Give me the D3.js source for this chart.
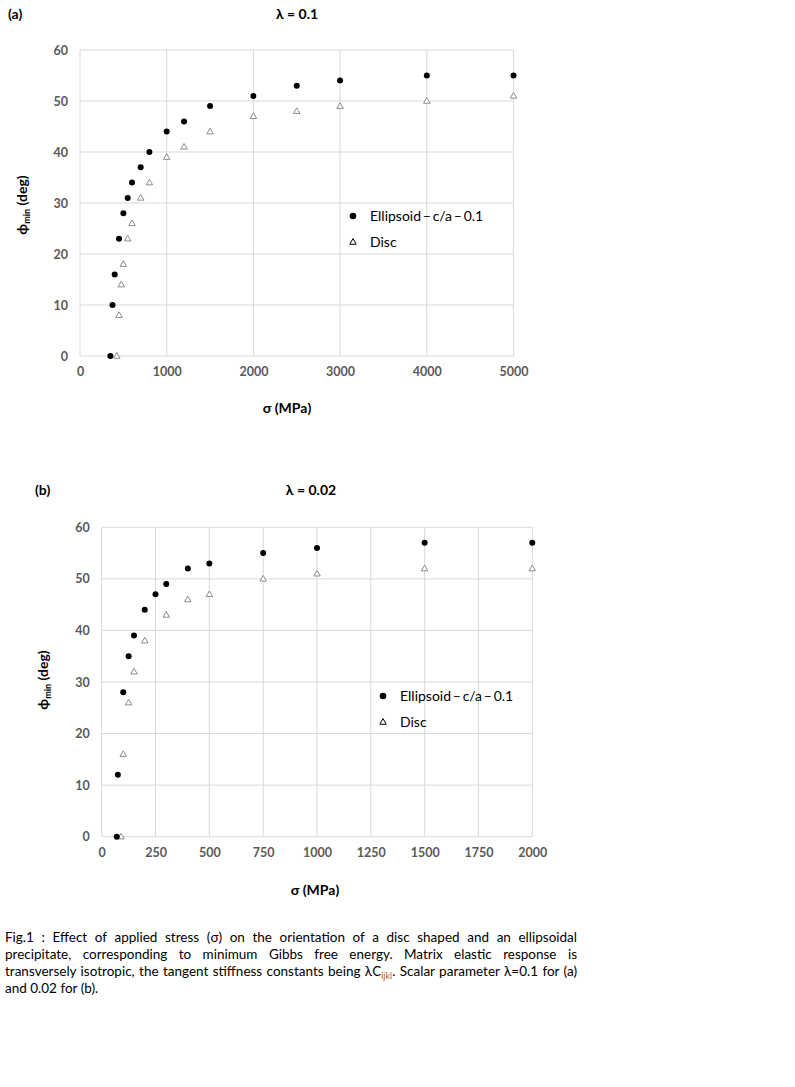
<!DOCTYPE html>
<html>
<head>
<meta charset="utf-8">
<script src="https://d3js.org/d3.v7.min.js"></script>
<style>
  html, body { margin: 0; padding: 0; background: #fff; }
  body { width: 795px; height: 1087px; position: relative; overflow: hidden; font-family: Lato, "Open Sans", sans-serif; }
  svg { position: absolute; left: 0; top: 0; }
  #caption { position: absolute; left: 5px; top: 929px; width: 572px; font-family: Lato, "Open Sans", sans-serif; font-size: 13.5px; line-height: 17px; color: #000; }
  #caption div { text-align: justify; text-align-last: justify; white-space: nowrap; }
  #caption div.last { text-align-last: left; }
  #caption sub { color: #c65911; font-size: 9px; vertical-align: -3px; line-height: 0; }
</style>
</head>
<body>
<svg id="chart" width="795" height="1087"></svg>
<div id="caption">
  <div>Fig.1 : Effect of applied stress (σ) on the orientation of a disc shaped and an ellipsoidal</div>
  <div>precipitate, corresponding to minimum Gibbs free energy. Matrix elastic response is</div>
  <div>transversely isotropic, the tangent stiffness constants being λC<sub>ijkl</sub>. Scalar parameter λ=0.1 for (a)</div>
  <div class="last">and 0.02 for (b).</div>
</div>
<script>
// ---- data: panel (a), lambda = 0.1 ----
const aSigmaEllipsoid = [350,375,400,450,500,550,600,700,800,1000,1200,1500,2000,2500,3000,4000,5000];
const aPhiEllipsoid   = [0,10,16,23,28,31,34,37,40,44,46,49,51,53,54,55,55];
const aSigmaDisc      = [425,450,475,500,550,600,700,800,1000,1200,1500,2000,2500,3000,4000,5000];
const aPhiDisc        = [0,8,14,18,23,26,31,34,39,41,44,47,48,49,50,51];
const aXTicks = [0,1000,2000,3000,4000,5000];

// ---- data: panel (b), lambda = 0.02 ----
const bSigmaEllipsoid = [70,75,100,125,150,200,250,300,400,500,750,1000,1500,2000];
const bPhiEllipsoid   = [0,12,28,35,39,44,47,49,52,53,55,56,57,57];
const bSigmaDisc      = [90,100,125,150,200,300,400,500,750,1000,1500,2000];
const bPhiDisc        = [0,16,26,32,38,43,46,47,50,51,52,52];
const bXTicks = [0,250,500,750,1000,1250,1500,1750,2000];

const yTicks = [0,10,20,30,40,50,60];
const seriesNames = ["Ellipsoid\u2009\u2013\u2009c/a\u2009\u2013\u20090.1", "Disc"];

const svg = d3.select("#chart");
const FONT = "Lato, 'Open Sans', sans-serif";

function triPath(cx, cy, s) {
  const h = s * 0.866;
  return `M${cx},${cy - h*0.6}L${cx + s/2},${cy + h*0.4}L${cx - s/2},${cy + h*0.4}Z`;
}

function drawPanel(cfg) {
  const x = d3.scaleLinear().domain([0, cfg.xMax]).range([cfg.left, cfg.right]);
  const y = d3.scaleLinear().domain([0, 60]).range([cfg.bottom, cfg.top]);
  const g = svg.append("g");

  // grid
  g.selectAll(".hg").data(yTicks).join("line")
    .attr("x1", cfg.left).attr("x2", cfg.right)
    .attr("y1", d => y(d)).attr("y2", d => y(d))
    .attr("stroke", "#d9d9d9").attr("stroke-width", 1);
  g.selectAll(".vg").data(cfg.xTicks).join("line")
    .attr("x1", d => x(d)).attr("x2", d => x(d))
    .attr("y1", cfg.top).attr("y2", cfg.bottom)
    .attr("stroke", "#d9d9d9").attr("stroke-width", 1);

  // axes via d3
  const xAxis = d3.axisBottom(x).tickValues(cfg.xTicks).tickFormat(d3.format("d")).tickSize(0).tickPadding(11);
  const gx = g.append("g").attr("transform", `translate(0,${cfg.bottom})`).call(xAxis);
  gx.select(".domain").remove();
  gx.selectAll("text").attr("font-family", FONT).attr("font-size", 12.5).attr("font-weight", "bold").attr("fill", "#595959");

  const yAxis = d3.axisLeft(y).tickValues(yTicks).tickFormat(d3.format("d")).tickSize(0).tickPadding(12);
  const gy = g.append("g").attr("transform", `translate(${cfg.left},0)`).call(yAxis);
  gy.select(".domain").remove();
  gy.selectAll("text").attr("font-family", FONT).attr("font-size", 12.5).attr("font-weight", "bold").attr("fill", "#595959");

  // points
  const ell = cfg.sEll.map((s, i) => [s, cfg.pEll[i]]);
  const disc = cfg.sDisc.map((s, i) => [s, cfg.pDisc[i]]);
  g.selectAll(".disc").data(disc).join("path")
    .attr("d", d => triPath(x(d[0]), y(d[1]), 6.5))
    .attr("fill", "#fff").attr("stroke", "#7f7f7f").attr("stroke-width", 0.9);
  g.selectAll(".ell").data(ell).join("circle")
    .attr("cx", d => x(d[0])).attr("cy", d => y(d[1])).attr("r", 3)
    .attr("fill", "#000");

  // labels
  svg.append("text").attr("x", cfg.tagX).attr("y", cfg.tagY).text(cfg.tag)
    .attr("font-family", FONT).attr("font-size", 14).attr("font-weight", "bold");
  svg.append("text").attr("x", cfg.titleX).attr("y", cfg.tagY).attr("text-anchor", "middle")
    .text(cfg.title).attr("font-family", FONT).attr("font-size", 14).attr("font-weight", "bold");
  svg.append("text").attr("x", cfg.xTitleX).attr("y", cfg.xTitleY).attr("text-anchor", "middle")
    .text("σ (MPa)").attr("font-family", FONT).attr("font-size", 14).attr("font-weight", "bold");
  const yt = svg.append("text").attr("transform", `translate(${cfg.yTitleX},${cfg.yTitleY}) rotate(-90)`)
    .attr("text-anchor", "middle").attr("font-family", FONT).attr("font-size", 14).attr("font-weight", "bold");
  yt.append("tspan").text("ϕ");
  yt.append("tspan").text("min").attr("font-size", 9).attr("dy", 3);
  yt.append("tspan").text(" (deg)").attr("dy", -3);

  // legend
  const lg = svg.append("g");
  lg.append("circle").attr("cx", cfg.legX).attr("cy", cfg.legY).attr("r", 3.3).attr("fill", "#000");
  lg.append("path").attr("d", triPath(cfg.legX, cfg.legY + 26, 6.5)).attr("fill", "#fff").attr("stroke", "#000").attr("stroke-width", 1);
  lg.selectAll("text").data(seriesNames).join("text")
    .attr("x", cfg.legX + 17).attr("y", (d, i) => cfg.legY + 5 + i * 26)
    .text(d => d).attr("font-family", FONT).attr("font-size", 14).attr("fill", "#000");
}

drawPanel({
  xMax: 5000, xTicks: aXTicks, left: 80, right: 513.5, top: 50, bottom: 356,
  sEll: aSigmaEllipsoid, pEll: aPhiEllipsoid, sDisc: aSigmaDisc, pDisc: aPhiDisc,
  tag: "(a)", tagX: 8, tagY: 19, title: "λ = 0.1", titleX: 297,
  xTitleX: 287, xTitleY: 413, yTitleX: 27, yTitleY: 205,
  legX: 353, legY: 216
});

drawPanel({
  xMax: 2000, xTicks: bXTicks, left: 101.7, right: 532.3, top: 527.3, bottom: 836.7,
  sEll: bSigmaEllipsoid, pEll: bPhiEllipsoid, sDisc: bSigmaDisc, pDisc: bPhiDisc,
  tag: "(b)", tagX: 35, tagY: 495, title: "λ = 0.02", titleX: 311,
  xTitleX: 315, xTitleY: 895, yTitleX: 48, yTitleY: 680,
  legX: 383, legY: 696
});
</script>
</body>
</html>
